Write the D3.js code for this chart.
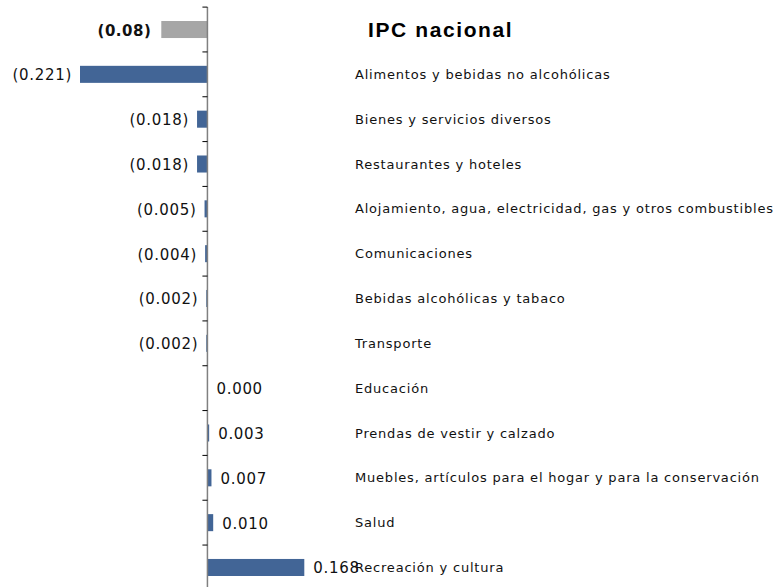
<!DOCTYPE html>
<html>
<head>
<meta charset="utf-8">
<script src="https://cdn.jsdelivr.net/npm/d3@7"></script>
<style>
	body { margin: 0; background: #fff; }
	svg { display: block; }
	.cat-label { font-family: "DejaVu Sans", Verdana, sans-serif; font-size: 13px; letter-spacing: 0.8px; fill: #111; }
	.val-label { font-family: "DejaVu Sans", Verdana, sans-serif; font-size: 15px; letter-spacing: 0.7px; fill: #111; }
	.val-label.total { font-weight: bold; letter-spacing: 0.5px; }
	.title { font-family: "Liberation Sans", Arial, sans-serif; font-size: 21px; font-weight: bold; letter-spacing: 1.6px; }
</style>
</head>
<body>
<svg id="chart" width="775" height="587"></svg>
<script>
	const categories = [
		"",
		"Alimentos y bebidas no alcohólicas",
		"Bienes y servicios diversos",
		"Restaurantes y hoteles",
		"Alojamiento, agua, electricidad, gas y otros combustibles",
		"Comunicaciones",
		"Bebidas alcohólicas y tabaco",
		"Transporte",
		"Educación",
		"Prendas de vestir y calzado",
		"Muebles, artículos para el hogar y para la conservación",
		"Salud",
		"Recreación y cultura"
	];
	const values = [-0.08, -0.221, -0.018, -0.018, -0.005, -0.004, -0.002, -0.002, 0.0, 0.003, 0.007, 0.010, 0.168];
	const valueLabels = ["(0.08)", "(0.221)", "(0.018)", "(0.018)", "(0.005)", "(0.004)", "(0.002)", "(0.002)", "0.000", "0.003", "0.007", "0.010", "0.168"];
	const chartTitle = "IPC nacional";

	const svg = d3.select("#chart");
	const rowStep = 44.83;
	const topY = 7.1;

	const x = d3.scaleLinear().domain([-0.221, 0.168]).range([80, 304.3]);
	const y = d3.scaleBand()
		.domain(d3.range(categories.length))
		.range([topY, topY + rowStep * categories.length])
		.paddingInner(0.62)
		.paddingOuter(0.31);

	// bars
	svg.append("g")
		.selectAll("rect")
		.data(values)
		.join("rect")
		.attr("x", (d) => x(Math.min(0, d)))
		.attr("width", (d) => Math.abs(x(d) - x(0)))
		.attr("y", (d, i) => y(i))
		.attr("height", y.bandwidth())
		.attr("fill", (d, i) => (i === 0 ? "#a6a6a6" : "#426596"));

	// axis line with ticks on category boundaries
	const axisG = svg.append("g").attr("stroke", "#808080");
	axisG.append("line")
		.attr("x1", x(0)).attr("x2", x(0))
		.attr("y1", topY).attr("y2", 587)
		.attr("stroke-width", 1.5);
	axisG.selectAll("line.tick")
		.data(d3.range(categories.length))
		.join("line")
		.attr("class", "tick")
		.attr("x1", x(0) - 5).attr("x2", x(0))
		.attr("y1", (d) => topY + d * rowStep)
		.attr("y2", (d) => topY + d * rowStep)
		.attr("stroke", "#000")
		.attr("stroke-width", 1);

	// value labels
	svg.append("g")
		.selectAll("text")
		.data(values)
		.join("text")
		.attr("class", (d, i) => (i === 0 ? "val-label total" : "val-label"))
		.attr("x", (d, i) => (d < 0 ? x(d) - (i === 0 ? 10 : 8) : x(d) + 9))
		.attr("y", (d, i) => y(i) + y.bandwidth() / 2)
		.attr("dy", "0.4em")
		.attr("text-anchor", (d) => (d < 0 ? "end" : "start"))
		.text((d, i) => valueLabels[i]);

	// category labels
	svg.append("g")
		.selectAll("text")
		.data(categories)
		.join("text")
		.attr("class", "cat-label")
		.attr("x", 355)
		.attr("y", (d, i) => y(i) + y.bandwidth() / 2)
		.attr("dy", "0.35em")
		.text((d) => d);

	svg.append("text")
		.attr("class", "title")
		.attr("x", 368)
		.attr("y", 37)
		.text(chartTitle);
</script>
</body>
</html>
